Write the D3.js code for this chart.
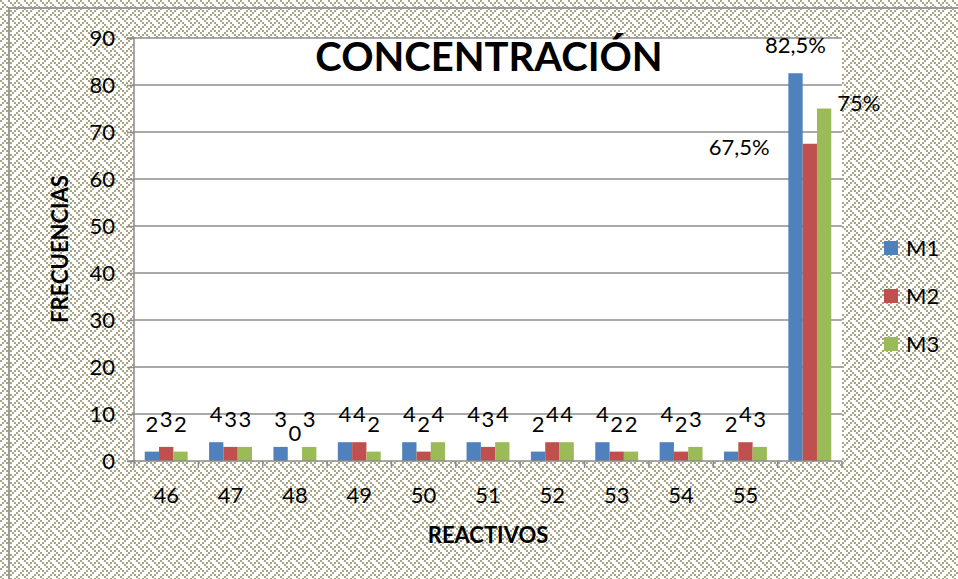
<!DOCTYPE html>
<html><head><meta charset="utf-8">
<script src="https://cdn.jsdelivr.net/npm/d3@7"></script>
<style>html,body{margin:0;padding:0;background:#fff;overflow:hidden}</style>
</head><body>
<svg id="chart" width="958" height="579"></svg>
<script>
const categories = ["46","47","48","49","50","51","52","53","54","55",""];
const seriesNames = ["M1","M2","M3"];
const m1 = [2,4,3,4,4,4,2,4,4,2,82.5];
const m2 = [3,3,0,4,2,3,4,2,2,4,67.5];
const m3 = [2,3,3,2,4,4,4,2,3,3,75];
const labelsM1 = ["2","4","3","4","4","4","2","4","4","2","82,5%"];
const labelsM2 = ["3","3","0","4","2","3","4","2","2","4","67,5%"];
const labelsM3 = ["2","3","3","2","4","4","4","2","3","3","75%"];
const yTicks = [0,10,20,30,40,50,60,70,80,90];
const colors = ["#4f81bd","#c0504d","#9bbb59"];

const svg = d3.select("#chart");
const W = 958, H = 579;
const font = "Lato, 'Open Sans', sans-serif";

// weave pattern
const defs = svg.append("defs");
const pat = defs.append("pattern").attr("id","weave").attr("patternUnits","userSpaceOnUse")
  .attr("width",16).attr("height",16);
pat.append("rect").attr("width",16).attr("height",16).attr("fill","#ffffff");
const bits = [
  "10001000",
  "01000101",
  "00100010",
  "01010001",
  "10001000",
  "00010101",
  "00100010",
  "01010100"];
bits.forEach((row,r)=>row.split("").forEach((b,c)=>{
  if(b==="1") pat.append("rect").attr("x",c*2).attr("y",r*2).attr("width",2).attr("height",2).attr("fill","#aaa584");
}));

svg.append("rect").attr("width",W).attr("height",H).attr("fill","url(#weave)");
// chart border (left & top visible)
svg.append("path").attr("d","M9,"+H+" V8 H"+W).attr("fill","none").attr("stroke","#9a9a9a").attr("stroke-width",2);

const plot = {l:134, r:842, t:38, b:461};
svg.append("rect").attr("x",plot.l).attr("y",plot.t).attr("width",plot.r-plot.l).attr("height",plot.b-plot.t).attr("fill","#fff");

const x = d3.scaleBand().domain(categories.map((c,i)=>i)).range([plot.l,plot.r]).paddingInner(1/3).paddingOuter(1/6);
const xs = d3.scaleBand().domain([0,1,2]).range([0,x.bandwidth()]).padding(0);
const y = d3.scaleLinear().domain([0,90]).range([plot.b,plot.t]);
const step = x.step();

// gridlines
svg.append("g").selectAll("line").data(yTicks.filter(v=>v>0)).join("line")
  .attr("x1",plot.l).attr("x2",plot.r).attr("y1",d=>y(d)).attr("y2",d=>y(d))
  .attr("stroke","#8c8c8c").attr("stroke-width",1.5);

// title
svg.append("rect").attr("x",305).attr("y",39).attr("width",370).attr("height",44).attr("fill","#fff");
svg.append("text").attr("x",489).attr("y",71).attr("text-anchor","middle")
  .attr("font-family",font).attr("font-weight","bold").attr("font-size",40).attr("fill","#000")
  .text("CONCENTRACIÓN");

// bars
const series = [m1,m2,m3];
const labels = [labelsM1,labelsM2,labelsM3];
series.forEach((vals,s)=>{
  svg.append("g").selectAll("rect").data(vals).join("rect")
    .attr("x",(d,i)=>x(i)+xs(s)).attr("width",xs.bandwidth())
    .attr("y",d=>y(d)).attr("height",d=>plot.b-y(d))
    .attr("fill",colors[s]);
});

// y axis
const yAxis = d3.axisLeft(y).tickValues(yTicks).tickSize(7).tickPadding(12);
const gy = svg.append("g").attr("transform",`translate(${plot.l},0)`).call(yAxis);
gy.select(".domain").attr("stroke","#8c8c8c").attr("stroke-width",1.5).attr("d",`M-7,${plot.t}H0V${plot.b}H-7`);
gy.selectAll(".tick line").attr("stroke","#8c8c8c").attr("stroke-width",1.5);
gy.selectAll(".tick text").attr("font-family",font).attr("font-size",22).attr("fill","#000").attr("dy","0.35em");

// x axis
const xAxisG = svg.append("g").attr("transform",`translate(0,${plot.b})`);
xAxisG.append("line").attr("x1",plot.l).attr("x2",plot.r).attr("stroke","#8c8c8c").attr("stroke-width",1.5);
const bounds = d3.range(categories.length+1).map(i=>plot.l+i*step);
xAxisG.selectAll("line.t").data(bounds).join("line").attr("class","t")
  .attr("x1",d=>d).attr("x2",d=>d).attr("y1",0).attr("y2",7).attr("stroke","#8c8c8c").attr("stroke-width",1.5);
xAxisG.selectAll("text").data(categories).join("text")
  .attr("x",(d,i)=>x(i)+x.bandwidth()/2).attr("y",42).attr("text-anchor","middle")
  .attr("font-family",font).attr("font-size",22).attr("fill","#000").text(d=>d);

// data labels
series.forEach((vals,s)=>{
  svg.append("g").selectAll("text").data(vals).join("text")
    .attr("font-family",font).attr("font-size",22).attr("fill","#000")
    .each(function(d,i){
      const t = d3.select(this);
      const cx = x(i)+xs(s)+xs.bandwidth()/2;
      if(i<10){
        t.attr("x",cx).attr("y",y(d)-20).attr("text-anchor","middle");
      } else if(s===0){
        t.attr("x",cx).attr("y",y(d)-20).attr("text-anchor","middle");
      } else if(s===1){
        t.attr("x",x(i)+xs(s)-33).attr("y",y(d)+11).attr("text-anchor","end");
      } else {
        t.attr("x",x(i)+xs(s)+xs.bandwidth()+6).attr("y",y(d)+2).attr("text-anchor","start");
      }
    }).text((d,i)=>labels[s][i]);
});

// axis titles
svg.append("text").attr("transform","translate(68,249) rotate(-90)").attr("text-anchor","middle")
  .attr("font-family",font).attr("font-weight","bold").attr("font-size",22).attr("fill","#000").text("FRECUENCIAS");
svg.append("text").attr("x",488).attr("y",543).attr("text-anchor","middle")
  .attr("font-family",font).attr("font-weight","bold").attr("font-size",22).attr("fill","#000").text("REACTIVOS");

// legend
const lg = svg.append("g");
seriesNames.forEach((n,i)=>{
  const yy = 248 + i*48;
  lg.append("rect").attr("x",884).attr("y",yy-7).attr("width",14).attr("height",14).attr("fill",colors[i]);
  lg.append("text").attr("x",906).attr("y",yy).attr("dy","0.36em").attr("font-family",font).attr("font-size",22).attr("fill","#000").text(n);
});
</script>
</body></html>
